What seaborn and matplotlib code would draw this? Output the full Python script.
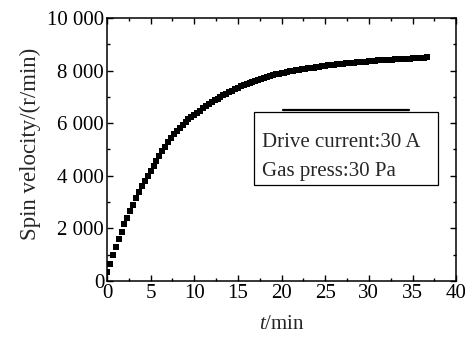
import numpy as np
import pandas as pd
import matplotlib
matplotlib.use("Agg")
import matplotlib.pyplot as plt
import seaborn as sns
from matplotlib.ticker import MultipleLocator, FixedLocator

# ---- data ----
sample_interval_min = 1 / 3  # one sample every 20 s
spin_velocity = [
    350, 650, 980, 1300, 1590, 1870, 2150, 2410, 2660, 2900,
    3140, 3370, 3600, 3800, 3990, 4170, 4370, 4570, 4770, 4940,
    5110, 5280, 5430, 5580, 5720, 5830, 5940, 6050, 6140, 6230,
    6310, 6400, 6480, 6560, 6640, 6720, 6800, 6870, 6930, 7000,
    7060, 7120, 7180, 7240, 7300, 7350, 7400, 7450, 7490, 7530,
    7570, 7610, 7650, 7690, 7720, 7750, 7790, 7820, 7850, 7880,
    7900, 7920, 7950, 7970, 7990, 8010, 8030, 8050, 8060, 8080,
    8100, 8110, 8130, 8150, 8160, 8180, 8190, 8210, 8220, 8230,
    8250, 8260, 8270, 8280, 8290, 8300, 8310, 8320, 8330, 8340,
    8350, 8360, 8370, 8380, 8385, 8390, 8400, 8405, 8415, 8420,
    8430, 8435, 8440, 8445, 8455, 8460, 8465, 8475, 8480, 8490,
    8500,
]
time_min = [i * sample_interval_min for i in range(len(spin_velocity))]

x_ticks = [0, 5, 10, 15, 20, 25, 30, 35, 40]
y_ticks = [0, 2000, 4000, 6000, 8000, 10000]
y_tick_labels = ["0", "2 000", "4 000", "6 000", "8 000", "10 000"]
legend_lines = ["Drive current:30 A", "Gas press:30 Pa"]

df = pd.DataFrame({"t": time_min, "v": spin_velocity})

# ---- style ----
sns.set_style("ticks")
plt.rcParams["font.family"] = ["Liberation Serif", "DejaVu Serif"]
plt.rcParams["mathtext.fontset"] = "custom"
plt.rcParams["mathtext.it"] = "Liberation Serif:italic"
plt.rcParams["mathtext.rm"] = "Liberation Serif"

FS = 15

fig = plt.figure(figsize=(4.65, 3.37), dpi=100)
ax = fig.add_axes([0.230, 0.166, 0.751, 0.781])

sns.scatterplot(data=df, x="t", y="v", ax=ax, marker="s", s=17,
                color="black", edgecolor="black", linewidth=0, legend=False)

ax.set_xlim(0, 40)
ax.set_ylim(0, 10000)
ax.xaxis.set_major_locator(FixedLocator(x_ticks))
ax.xaxis.set_minor_locator(MultipleLocator(2.5))
ax.yaxis.set_major_locator(FixedLocator(y_ticks))
ax.yaxis.set_minor_locator(MultipleLocator(1000))
ax.set_yticklabels(y_tick_labels)
ax.tick_params(which="both", direction="in", top=True, right=True,
               labelsize=FS, width=1, color="black", labelcolor="black")
ax.tick_params(which="major", length=4, pad=2)
ax.tick_params(which="minor", length=2.5)
for sp in ax.spines.values():
    sp.set_linewidth(1.1)
    sp.set_color("black")

ax.set_xlabel(r"$t$/min", fontsize=FS, labelpad=9)
ax.set_ylabel("Spin velocity/(r/min)", fontsize=16.5, labelpad=6)
ax.yaxis.set_label_coords(-0.19, 0.52)

# legend-like text box
box = plt.Rectangle((0.421, 0.365), 0.527, 0.278, transform=ax.transAxes,
                    fill=False, edgecolor="black", linewidth=0.9)
ax.add_patch(box)
ax.plot([0.504, 0.865], [0.651, 0.651], transform=ax.transAxes,
        color="black", linewidth=1.6)
ax.text(0.443, 0.528, legend_lines[0], transform=ax.transAxes,
        fontsize=FS, va="center", ha="left")
ax.text(0.443, 0.415, legend_lines[1], transform=ax.transAxes,
        fontsize=FS, va="center", ha="left")

fig.savefig("out.png", dpi=100)
